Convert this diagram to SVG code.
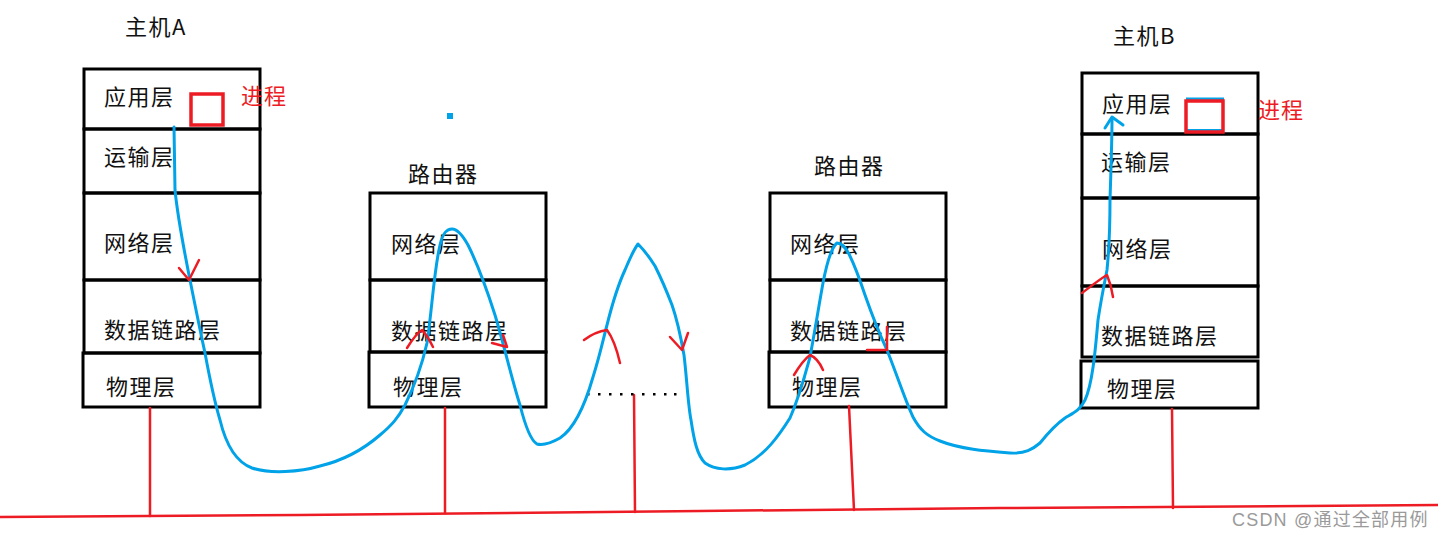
<svg xmlns="http://www.w3.org/2000/svg" width="1438" height="537" viewBox="0 0 1438 537">
<style>
.box{fill:none;stroke:#000;stroke-width:3}
.t{font-family:"Noto Sans CJK SC","Noto Sans",sans-serif;font-size:22px;letter-spacing:1.5px;fill:#111}
.tr{font-family:"Noto Sans CJK SC","Noto Sans",sans-serif;font-size:22px;letter-spacing:1px;fill:#ed1c24}
.red{fill:none;stroke:#ed1c24;stroke-width:2.5;stroke-linecap:round;stroke-linejoin:round}
.blue{fill:none;stroke:#00a2e8;stroke-width:3;stroke-linecap:round;stroke-linejoin:round}
.proc{fill:none;stroke:#ed1c24;stroke-width:3.5}
</style>
<rect width="1438" height="537" fill="#fff"/>

<g id="hostA">
<text class="t" x="125" y="35">主机A</text>
<rect class="box" x="84" y="69" width="176" height="60"/>
<rect class="box" x="84" y="129" width="176" height="64"/>
<rect class="box" x="84" y="193" width="176" height="87"/>
<rect class="box" x="84" y="280" width="176" height="73"/>
<rect class="box" x="83" y="353" width="177" height="54"/>
<text class="t" x="104" y="105">应用层</text>
<text class="t" x="104" y="165">运输层</text>
<text class="t" x="104" y="251">网络层</text>
<text class="t" x="104" y="338">数据链路层</text>
<text class="t" x="106" y="395">物理层</text>
<line x1="191" y1="95" x2="191" y2="125" stroke="#00a2e8" stroke-width="2"/>
<rect class="proc" x="191" y="94" width="32" height="31"/>
<text class="tr" x="241" y="104">进程</text>
</g>

<g id="router1">
<text class="t" x="408" y="182">路由器</text>
<rect class="box" x="370" y="193" width="176" height="87"/>
<rect class="box" x="370" y="280" width="176" height="72"/>
<rect class="box" x="369" y="352" width="177" height="55"/>
<text class="t" x="391" y="252">网络层</text>
<text class="t" x="391" y="339">数据链路层</text>
<text class="t" x="393" y="395">物理层</text>
</g>

<g id="router2">
<text class="t" x="814" y="174">路由器</text>
<rect class="box" x="770" y="193" width="176" height="87"/>
<rect class="box" x="770" y="280" width="176" height="72"/>
<rect class="box" x="769" y="352" width="177" height="55"/>
<text class="t" x="790" y="252">网络层</text>
<text class="t" x="790" y="339">数据链路层</text>
<text class="t" x="792" y="395">物理层</text>
</g>

<g id="hostB">
<text class="t" x="1113" y="44">主机B</text>
<rect class="box" x="1082" y="73" width="176" height="61"/>
<rect class="box" x="1082" y="134" width="176" height="64"/>
<rect class="box" x="1082" y="198" width="176" height="88"/>
<rect class="box" x="1082" y="286" width="176" height="71"/>
<rect class="box" x="1081" y="361" width="177" height="47"/>
<text class="t" x="1102" y="112">应用层</text>
<text class="t" x="1101" y="170">运输层</text>
<text class="t" x="1102" y="257">网络层</text>
<text class="t" x="1101" y="344">数据链路层</text>
<text class="t" x="1107" y="397">物理层</text>
<line x1="1186" y1="99" x2="1224" y2="99" stroke="#00a2e8" stroke-width="3"/>
<line x1="1187" y1="130" x2="1222" y2="130" stroke="#00a2e8" stroke-width="2"/>
<rect class="proc" x="1186" y="101" width="37" height="31"/>
<text class="tr" x="1258" y="118">进程</text>
</g>

<g id="network">
<path class="red" d="M0,517 L300,515 L700,511 L1000,508 L1438,505"/>
<line class="red" x1="150" y1="408" x2="150" y2="516"/>
<line class="red" x1="445" y1="408" x2="445" y2="513"/>
<line class="red" x1="634" y1="395" x2="635" y2="512"/>
<line class="red" x1="849" y1="406" x2="854" y2="510"/>
<line class="red" x1="1172" y1="409" x2="1173" y2="508"/>
<g fill="#000">
<rect x="587" y="393" width="2.5" height="2.5"/><rect x="598" y="393" width="2.5" height="2.5"/><rect x="609" y="393" width="2.5" height="2.5"/><rect x="620" y="393" width="2.5" height="2.5"/><rect x="631" y="393" width="2.5" height="2.5"/><rect x="642" y="393" width="2.5" height="2.5"/><rect x="653" y="393" width="2.5" height="2.5"/><rect x="664" y="393" width="2.5" height="2.5"/><rect x="674" y="393" width="2.5" height="2.5"/>
</g>
<rect x="447" y="113" width="6" height="6" fill="#00a2e8"/>
</g>

<g id="connectors">
<path class="blue" d="M174,127 L175,190 C178,220 185,255 190,280 C196,310 200,330 205,353 C210,380 214,400 220,420 C226,445 236,462 252,468 C270,474 300,472 320,466 C345,460 365,448 380,435 C392,425 398,418 405,405 C415,385 422,365 427,343 C432,310 434,270 440,245 C443,232 447,229 452,229 C458,229 463,236 468,245 C478,265 487,290 495,315 C504,345 512,380 520,405 C525,425 530,440 537,444 C545,446 553,442 560,438 C575,428 585,405 593,377 C600,355 603,340 607,325 C612,305 618,285 625,270 C630,258 635,248 638,244 C644,250 650,258 655,266 C662,280 667,292 672,305 C678,322 681,338 684,355 C687,380 688,405 691,420 C694,440 697,455 705,463 C715,470 730,471 745,465 C765,455 778,437 790,418 C800,395 805,375 810,357 C815,330 819,305 823,283 C827,262 831,248 837,243 C842,243 845,247 849,254 C855,266 860,280 865,295 C872,315 880,335 887,350 C897,375 905,400 913,417 C920,430 927,436 940,441 C960,449 985,451 1010,453 C1025,454 1033,449 1040,443 C1048,433 1055,425 1065,418 C1075,412 1080,410 1085,400 C1092,385 1095,355 1098,320 C1101,300 1104,285 1107,270 C1109,250 1110,225 1110,200 C1111,170 1112,140 1112,119"/>
<path class="blue" d="M1105,128 L1112,117 L1123,125"/>
<path class="red" d="M179,268 L189,280 L199,260"/>
<path class="red" d="M407,348 C412,340 417,333 422,330 C427,335 430,341 433,347"/>
<path class="red" d="M492,343 L507,347 L503,335"/>
<path class="red" d="M584,340 C592,334 600,331 607,330 C613,338 617,350 620,363"/>
<path class="red" d="M670,337 L682,350 L688,333"/>
<path class="red" d="M794,375 C800,365 806,358 810,355 C815,357 820,363 823,370"/>
<path class="red" d="M867,350 L887,350 L887,327"/>
<path class="red" d="M1082,293 C1090,287 1100,279 1107,275 C1110,282 1112,290 1113,297"/>
</g>

<text x="1232" y="526" font-family="'Liberation Sans','Noto Sans CJK SC',sans-serif" font-size="18" letter-spacing="1.2" fill="#9a9a9a">CSDN @通过全部用例</text>
</svg>
